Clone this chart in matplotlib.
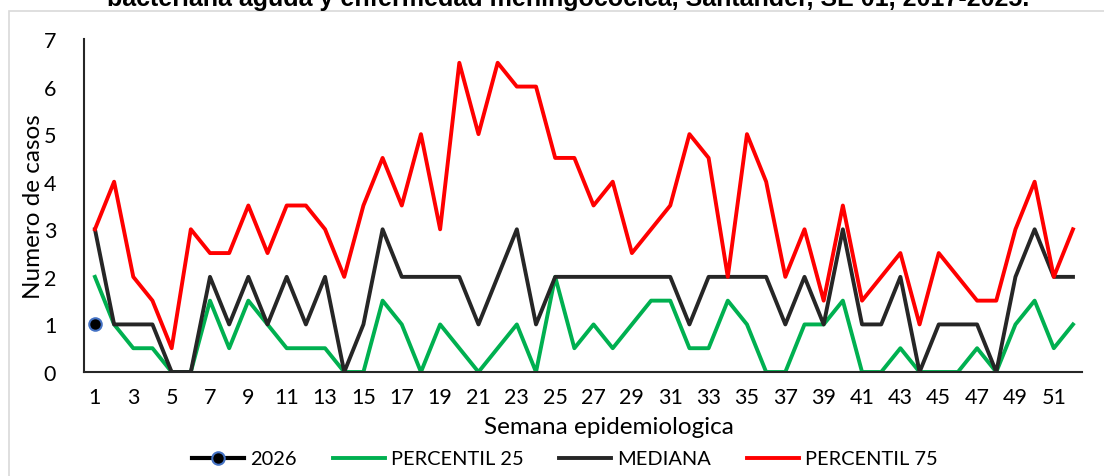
import matplotlib
matplotlib.use("Agg")
from matplotlib import pyplot as plt
from matplotlib.patches import Rectangle
import numpy as np

semanas = np.arange(1, 53)
p75 = [3, 4, 2, 1.5, 0.5, 3, 2.5, 2.5, 3.5, 2.5, 3.5, 3.5, 3, 2, 3.5, 4.5, 3.5, 5, 3, 6.5,
       5, 6.5, 6, 6, 4.5, 4.5, 3.5, 4, 2.5, 3, 3.5, 5, 4.5, 2, 5, 4, 2, 3, 1.5, 3.5,
       1.5, 2, 2.5, 1, 2.5, 2, 1.5, 1.5, 3, 4, 2, 3]
mediana = [3, 1, 1, 1, 0, 0, 2, 1, 2, 1, 2, 1, 2, 0, 1, 3, 2, 2, 2, 2,
           1, 2, 3, 1, 2, 2, 2, 2, 2, 2, 2, 1, 2, 2, 2, 2, 1, 2, 1, 3,
           1, 1, 2, 0, 1, 1, 1, 0, 2, 3, 2, 2]
p25 = [2, 1, 0.5, 0.5, 0, 0, 1.5, 0.5, 1.5, 1, 0.5, 0.5, 0.5, 0, 0, 1.5, 1, 0, 1, 0.5,
       0, 0.5, 1, 0, 2, 0.5, 1, 0.5, 1, 1.5, 1.5, 0.5, 0.5, 1.5, 1, 0, 0, 1, 1, 1.5,
       0, 0, 0.5, 0, 0, 0, 0.5, 0, 1, 1.5, 0.5, 1]
sem_2026 = [1]
casos_2026 = [1]

titulo = "bacteriana aguda y enfermedad meningocócica, Santander, SE 01, 2017-2025."

plt.rcParams['font.family'] = ['Lato', 'DejaVu Sans']

fig = plt.figure(figsize=(11.04, 4.77), dpi=100)
ax = fig.add_axes([84/1104, 1-373/477, (1082-84)/1104, (373-40)/477])

# chart area border (Excel style)
fig.patches.append(Rectangle((9/1104, -0.1), 1.2, 1 - 12/477 + 0.1, transform=fig.transFigure,
                             fill=False, edgecolor='#d9d9d9', linewidth=1.2))

fig.text(0.515, 1 - 6/477, titulo, ha='center', va='baseline', fontsize=18,
         fontweight='bold', family='Liberation Sans')

l1, = ax.plot(sem_2026, casos_2026, color='black', lw=3, marker='o', ms=9,
              markerfacecolor='black', markeredgecolor='#4472C4', markeredgewidth=1.5,
              label='2026', zorder=5)
l2, = ax.plot(semanas, p25, color='#00B050', lw=2.8, label='PERCENTIL 25')
l3, = ax.plot(semanas, mediana, color='#262626', lw=2.8, label='MEDIANA')
l4, = ax.plot(semanas, p75, color='#FF0000', lw=2.8, label='PERCENTIL 75')

ax.set_xlim(0.43, 52.47)
ax.set_ylim(0, 7)
ax.set_xticks(np.arange(1, 53, 2))
ax.set_yticks(range(0, 8))
ax.tick_params(axis='both', length=0, labelsize=15.5)
ax.tick_params(axis='x', pad=11)
ax.tick_params(axis='y', pad=20)
for s in ['top', 'right']:
    ax.spines[s].set_visible(False)
for s in ['left', 'bottom']:
    ax.spines[s].set_color('#262626')
    ax.spines[s].set_linewidth(1.5)

ax.set_xlabel('Semana epidemiologica', fontsize=17.5, labelpad=6)
ax.xaxis.label.set_x(0.526)
ax.set_ylabel('Numero de casos', fontsize=17.5, labelpad=0)

fig.legend(handles=[l1, l2, l3, l4], loc='center', bbox_to_anchor=(565/1104, 1 - 460/477),
           ncol=4, frameon=False, fontsize=14.4, handlelength=2.6, columnspacing=1.8,
           handletextpad=0.3)

fig.savefig('out.png', dpi=100)
